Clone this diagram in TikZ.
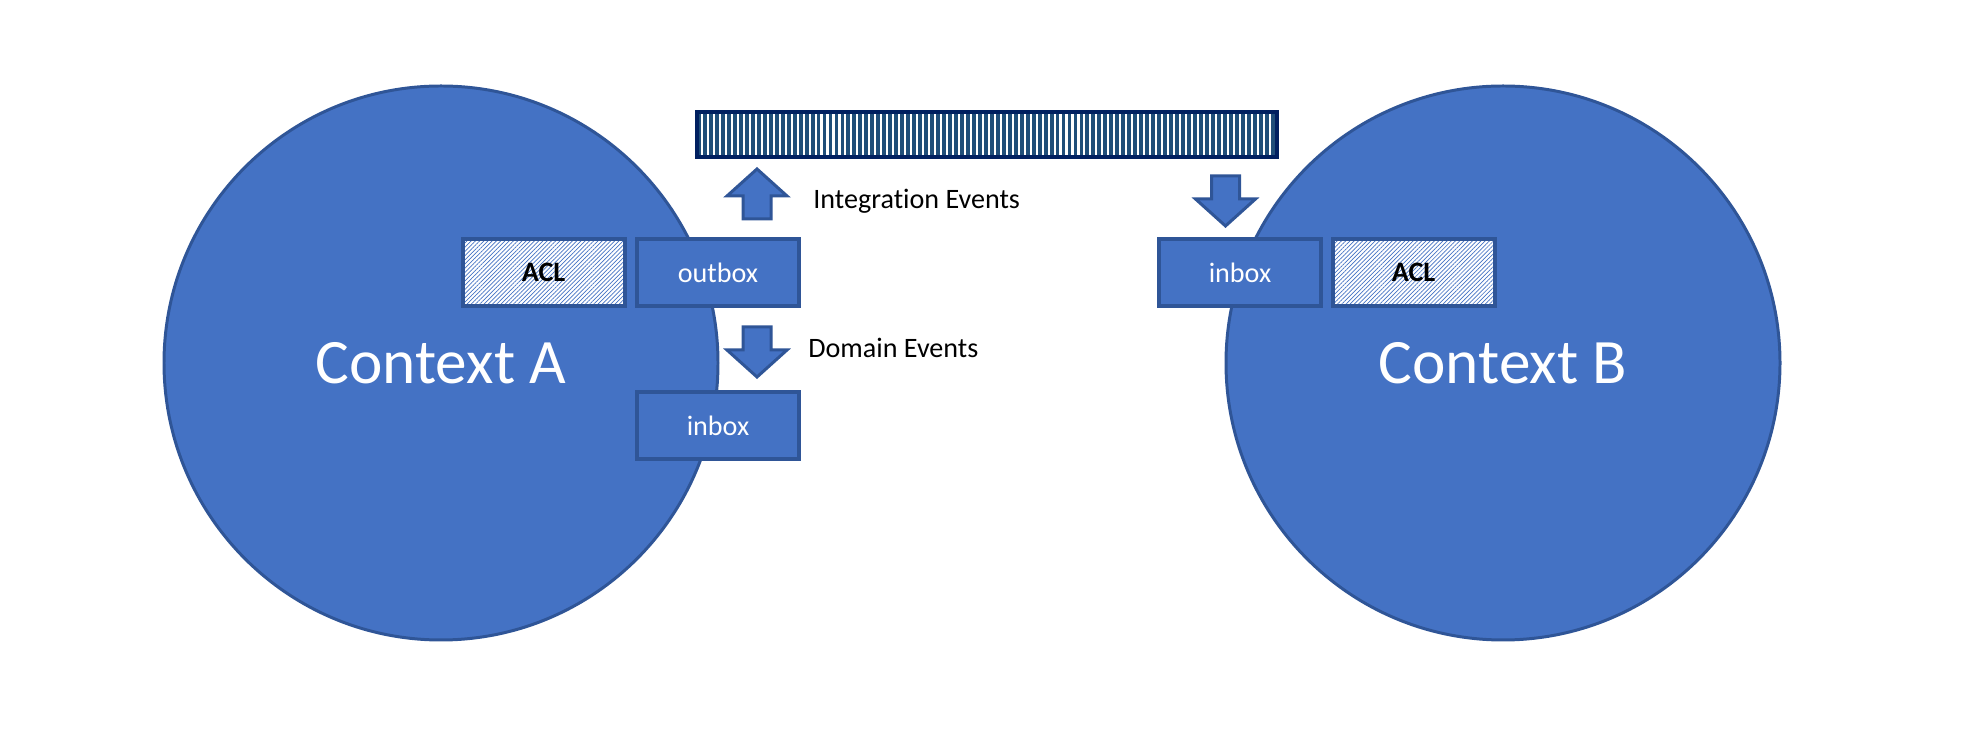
\documentclass[tikz,border=0pt]{standalone}
\usepackage{fontspec}
\setmainfont{Carlito}[Ligatures=NoCommon]
\usetikzlibrary{positioning,patterns.meta}

\definecolor{ctxblue}{HTML}{4472C4}
\definecolor{ctxedge}{HTML}{2F5597}
\definecolor{busnavy}{HTML}{002060}
\definecolor{busstripe}{HTML}{1F4E79}

\tikzset{
  context/.style={circle, fill=ctxblue, draw=ctxedge, line width=1.7pt,
    minimum size=11.08cm, text=white, font=\fontsize{36}{40}\selectfont},
  msgbox/.style={rectangle, fill=ctxblue, draw=ctxedge, line width=2.3pt,
    minimum width=3.24cm, minimum height=1.34cm, text=white,
    font=\fontsize{16}{19}\selectfont},
  acl/.style={rectangle, draw=ctxedge, line width=2.3pt, preaction={fill=white},
    pattern={Lines[angle=45,distance=1.7pt,line width=0.4pt]}, pattern color=ctxblue,
    minimum width=3.24cm, minimum height=1.34cm, text=black,
    font=\fontsize{16}{19}\selectfont\bfseries},
  bus/.style={rectangle, draw=busnavy, line width=2.3pt, preaction={fill=white},
    pattern={Lines[angle=90,distance=3.4pt,line width=2.2pt]}, pattern color=busstripe,
    minimum width=11.6cm, minimum height=0.9cm},
  evtlabel/.style={inner sep=0pt, anchor=west, font=\fontsize{16}{19}\selectfont},
  pics/evtarrow/.style={code={
    \draw[fill=ctxblue, draw=ctxedge, line width=1.7pt]
      (-0.28,0) -- (0.28,0) -- (0.28,0.46) -- (0.6,0.46) -- (0,1)
      -- (-0.6,0.46) -- (-0.28,0.46) -- cycle;
  }}
}

\begin{document}
\begin{tikzpicture}
    \useasboundingbox (0,0) rectangle (39.42,14.58);

    % the two bounded contexts
    \node[context] (ctxA) at (8.82,7.32) {Context A};
    \node[context] (ctxB) at (30.06,7.32) {Context B};

    % message bus
    \node[bus] (bus) at (19.74,11.89) {};

    % context A side
    \node[msgbox] (outboxA) at (14.36,9.13) {outbox};
    \node[acl, left=0.2cm of outboxA] (aclA) {ACL};
    \node[msgbox] (inboxA) at (14.36,6.07) {inbox};

    % context B side
    \node[msgbox] (inboxB) at (24.8,9.13) {inbox};
    \node[acl, right=0.15cm of inboxB] (aclB) {ACL};

    % event flow
    \pic at (15.14,10.2) {evtarrow};
    \pic[rotate=180] at (15.14,8.04) {evtarrow};
    \pic[rotate=180] at (24.51,11.06) {evtarrow};

    \node[evtlabel] (intlbl) at (16.26,10.56) {Integration Events};
    \node[evtlabel] (domlbl) at (16.16,7.62) {Domain Events};
\end{tikzpicture}
\end{document}
